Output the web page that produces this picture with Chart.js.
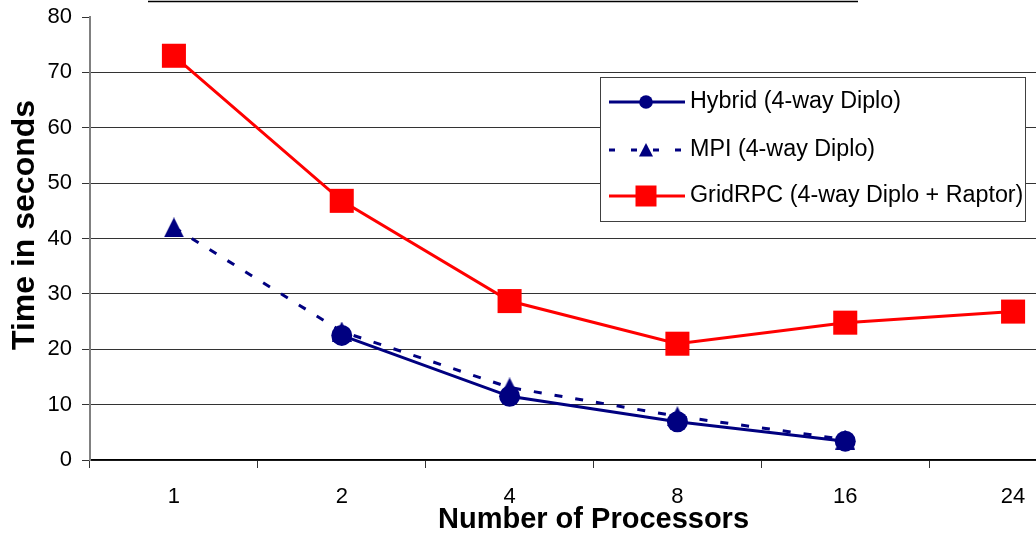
<!DOCTYPE html>
<html>
<head>
<meta charset="utf-8">
<script src="https://cdn.jsdelivr.net/npm/chart.js@4/dist/chart.umd.min.js"></script>
<style>
  html, body { margin: 0; padding: 0; background: #fff; overflow: hidden; width: 1036px; height: 536px; }
  #wrap { position: absolute; left: 0; top: 0; width: 1114px; height: 536px; }
</style>
</head>
<body>
<div id="wrap"><canvas id="chart"></canvas></div>
<script>
// Processor counts (category axis)
const processors = ['1', '2', '4', '8', '16', '24'];

// Run times in seconds
const hybrid  = [null, 22.5, 11.5, 6.9, 3.4, null];
const mpi     = [42.0, 23.2, 13.1, 7.9, 3.7, null];
const gridrpc = [73.0, 46.8, 28.7, 21.0, 24.8, 26.8];

// Value axis range
const yMin = 0;
const yMax = 80;
const yStep = 10;

const FONT = "'Liberation Sans', Arial, sans-serif";
const NAVY = '#000080';
const RED = '#ff0000';

// Triangle marker drawn centred in its own box
function triangleImage(w, h, color) {
  const c = document.createElement('canvas');
  c.width = w; c.height = h;
  const g = c.getContext('2d');
  g.fillStyle = color;
  g.beginPath();
  g.moveTo(w / 2, 0);
  g.lineTo(w, h);
  g.lineTo(0, h);
  g.closePath();
  g.fill();
  return c;
}

// Short rule across the top of the figure
const topRule = {
  id: 'topRule',
  afterDraw(chart) {
    const ctx = chart.ctx;
    ctx.save();
    ctx.strokeStyle = '#000';
    ctx.lineWidth = 1.5;
    ctx.beginPath();
    ctx.moveTo(148, 1.5);
    ctx.lineTo(858, 1.5);
    ctx.stroke();
    ctx.restore();
  }
};

// Rotated value-axis title, set a little above the plot's middle
const yAxisTitle = {
  id: 'yAxisTitle',
  afterDraw(chart) {
    const ctx = chart.ctx;
    ctx.save();
    ctx.translate(25, 225);
    ctx.rotate(-Math.PI / 2);
    ctx.fillStyle = '#000';
    ctx.font = 'bold 32px ' + FONT;
    ctx.textAlign = 'center';
    ctx.textBaseline = 'middle';
    ctx.fillText('Time in seconds', 0, 0);
    ctx.restore();
  }
};

// Boxed legend inside the plot, with line + marker samples
const boxLegend = {
  id: 'boxLegend',
  afterDraw(chart) {
    const ctx = chart.ctx;
    const x0 = 600.5, y0 = 77.5, w = 425, h = 144;
    const rows = [102, 150, 196];
    ctx.save();
    ctx.fillStyle = '#fff';
    ctx.fillRect(x0, y0, w, h);
    ctx.strokeStyle = '#404040';
    ctx.lineWidth = 1;
    ctx.strokeRect(x0, y0, w, h);

    chart.data.datasets.forEach((ds, i) => {
      const y = rows[i];
      const mx = 646;
      ctx.strokeStyle = ds.borderColor;
      ctx.lineWidth = ds.borderWidth;
      ctx.setLineDash(ds.borderDash ? [6, 16] : []);
      ctx.beginPath();
      ctx.moveTo(609, y);
      ctx.lineTo(685, y);
      ctx.stroke();
      ctx.setLineDash([]);

      ctx.fillStyle = ds.pointBackgroundColor;
      ctx.beginPath();
      if (ds.legendMarker === 'circle') {
        ctx.arc(mx, y, 6.8, 0, Math.PI * 2);
      } else if (ds.legendMarker === 'triangle') {
        ctx.moveTo(mx, y - 7);
        ctx.lineTo(mx + 7, y + 6.5);
        ctx.lineTo(mx - 7, y + 6.5);
        ctx.closePath();
      } else {
        ctx.rect(mx - 10.5, y - 10.5, 21, 21);
      }
      ctx.fill();

      ctx.fillStyle = '#000';
      ctx.font = '23.3px ' + FONT;
      ctx.textBaseline = 'middle';
      ctx.textAlign = 'left';
      ctx.fillText(ds.label, 690, y);
    });
    ctx.restore();
  }
};

new Chart(document.getElementById('chart'), {
  type: 'line',
  data: {
    labels: processors,
    datasets: [
      {
        label: 'Hybrid (4-way Diplo)',
        data: hybrid,
        borderColor: NAVY,
        backgroundColor: NAVY,
        pointBackgroundColor: NAVY,
        borderWidth: 3,
        pointStyle: 'circle',
        pointRadius: 10.5,
        pointBorderWidth: 0,
        legendMarker: 'circle'
      },
      {
        label: 'MPI (4-way Diplo)',
        data: mpi,
        borderColor: NAVY,
        backgroundColor: NAVY,
        pointBackgroundColor: NAVY,
        borderWidth: 3,
        borderDash: [8, 13],
        pointStyle: triangleImage(20, 20, NAVY),
        pointRadius: 10,
        pointBorderWidth: 0,
        legendMarker: 'triangle'
      },
      {
        label: 'GridRPC (4-way Diplo + Raptor)',
        data: gridrpc,
        borderColor: RED,
        backgroundColor: RED,
        pointBackgroundColor: RED,
        borderWidth: 3,
        pointStyle: 'rect',
        pointRadius: 17,
        pointBorderWidth: 0,
        legendMarker: 'rect'
      }
    ]
  },
  options: {
    responsive: true,
    maintainAspectRatio: false,
    animation: false,
    events: [],
    layout: { padding: { top: 16, right: 2, left: 0, bottom: 0 } },
    elements: { line: { tension: 0, borderCapStyle: 'butt' } },
    plugins: {
      legend: { display: false },
      tooltip: { enabled: false }
    },
    scales: {
      x: {
        offset: true,
        afterFit(scale) { scale.height = 76; },
        grid: {
          offset: true,
          drawOnChartArea: false,
          drawTicks: true,
          tickLength: 8,
          color: '#333',
          tickColor: '#333'
        },
        border: { color: '#000', width: 1.5 },
        ticks: {
          color: '#000',
          padding: 16,
          font: { family: FONT, size: 22 }
        },
        title: {
          display: true,
          text: 'Number of Processors',
          color: '#000',
          padding: { top: 0, bottom: 0 },
          font: { family: FONT, size: 29, weight: 'bold', lineHeight: 1.1 }
        }
      },
      y: {
        min: yMin,
        max: yMax,
        afterFit(scale) {
          scale.width = 90;
          scale.paddingTop = 0;
          scale.paddingBottom = 0;
        },
        grid: {
          color: (c) => (c.tick && c.tick.value === yMax ? 'rgba(0,0,0,0)' : '#333'),
          tickColor: '#333',
          tickLength: 8,
          lineWidth: 1
        },
        border: { color: '#808080', width: 2 },
        ticks: {
          stepSize: yStep,
          color: '#000',
          padding: 10,
          font: { family: FONT, size: 22 }
        },
        title: { display: false }
      }
    }
  },
  plugins: [topRule, yAxisTitle, boxLegend]
});
</script>
</body>
</html>
